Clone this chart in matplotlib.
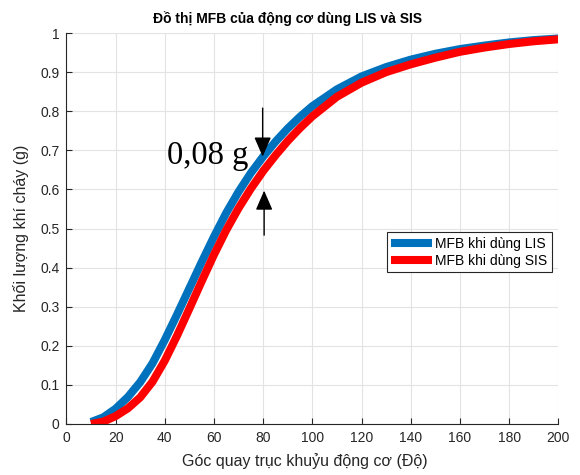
"""
MFB curves: LIS vs SIS ignition (values read off the reference chart)
"""

import numpy as np
import matplotlib
matplotlib.use('Agg')
import matplotlib.pyplot as plt

plt.rcParams['font.family'] = ['Liberation Sans', 'DejaVu Sans']

# ── Data (crank angle in degrees, burned mass fraction) ───────────────────
angle = [10, 15, 20, 25, 30, 35, 40, 45, 50, 55, 60, 65, 70, 75, 80, 85, 90,
         95, 100, 110, 120, 130, 140, 150, 160, 170, 180, 190, 200]
mfb_lis = [0.005, 0.017, 0.039, 0.069, 0.107, 0.155, 0.215, 0.280, 0.347,
           0.414, 0.479, 0.540, 0.594, 0.642, 0.684, 0.722, 0.756, 0.786,
           0.813, 0.856, 0.889, 0.913, 0.932, 0.947, 0.959, 0.968, 0.976,
           0.982, 0.986]
mfb_sis = [0.000, 0.006, 0.020, 0.040, 0.068, 0.108, 0.162, 0.226, 0.295,
           0.365, 0.433, 0.496, 0.552, 0.602, 0.647, 0.687, 0.724, 0.757,
           0.787, 0.837, 0.873, 0.900, 0.920, 0.937, 0.952, 0.963, 0.972,
           0.979, 0.984]

xticks = np.arange(0, 201, 20)
yticks = np.round(np.arange(0, 1.01, 0.1), 1)
ytick_labels = ['0'] + [f'{v:g}' for v in yticks[1:-1]] + ['1']

# ── Plot ──────────────────────────────────────────────────────────────────
fig = plt.figure(figsize=(5.8, 4.75), dpi=100)
ax = fig.add_axes([0.1145, 0.1074, 0.848, 0.823])

ax.plot(angle, mfb_lis, color='#0072BD', linewidth=5.8,
        solid_capstyle='butt', solid_joinstyle='round',
        label='MFB khi dùng LIS')
ax.plot(angle, mfb_sis, color='#FF0000', linewidth=5.8,
        solid_capstyle='butt', solid_joinstyle='round',
        label='MFB khi dùng SIS')

ax.set_xlim(0, 200)
ax.set_ylim(0, 1)
ax.set_xticks(xticks)
ax.set_yticks(yticks)
ax.set_yticklabels(ytick_labels)
ax.grid(True, color='#e3e3e3', linewidth=0.8)
ax.set_axisbelow(True)

for side in ('top', 'right'):
    ax.spines[side].set_visible(False)
for side in ('left', 'bottom'):
    ax.spines[side].set_color('#262626')
    ax.spines[side].set_linewidth(0.8)
ax.tick_params(direction='in', length=4, width=0.8, colors='#262626',
               labelsize=10, pad=5)

ax.set_title('Đồ thị MFB của động cơ dùng LIS và SIS', fontsize=10,
             fontweight='bold', pad=7, x=0.45)
ax.set_xlabel('Góc quay trục khuỷu động cơ (Độ)', fontsize=11.5,
              color='#262626', x=0.485, labelpad=6)
ax.set_ylabel('Khối lượng khí cháy (g)', fontsize=11.5, color='#262626',
              labelpad=8)

# difference annotation
head = '-|>,head_length=0.6,head_width=0.26'
ax.annotate('', xy=(79.8, 0.684), xytext=(79.8, 0.808),
            arrowprops=dict(arrowstyle=head, color='k', lw=1,
                            mutation_scale=20, shrinkA=0, shrinkB=0))
ax.annotate('', xy=(80.4, 0.597), xytext=(80.4, 0.483),
            arrowprops=dict(arrowstyle=head, color='k', lw=1,
                            mutation_scale=20, shrinkA=0, shrinkB=0))
ax.text(40.8, 0.664, '0,08 g', fontsize=23.5, family='Liberation Serif',
        color='k', ha='left', va='baseline')

leg = ax.legend(loc='upper left', bbox_to_anchor=(0.651, 0.49),
                fontsize=10, handlelength=3.0, handletextpad=0.2,
                borderpad=0.3, labelspacing=0.25, fancybox=False,
                framealpha=1, borderaxespad=0)
leg.get_frame().set_edgecolor('#262626')
leg.get_frame().set_linewidth(0.8)

plt.savefig('out.png', dpi=100)
